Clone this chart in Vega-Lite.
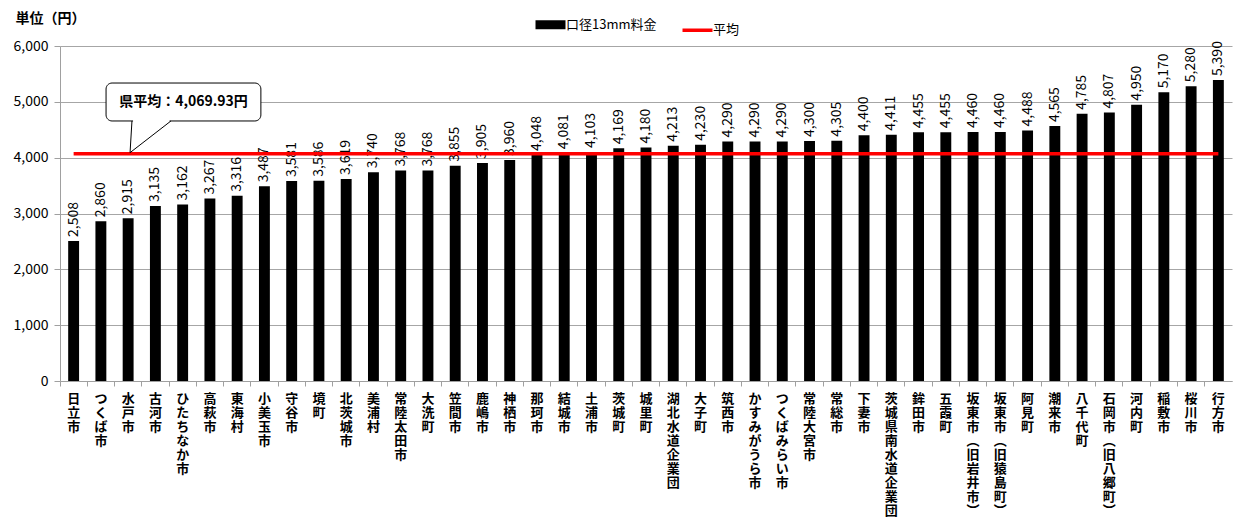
{
  "$schema": "https://vega.github.io/schema/vega-lite/v6.json",
  "autosize": "none",
  "width": 1172,
  "height": 335,
  "padding": {"left": 60, "top": 46, "right": 5, "bottom": 144},
  "background": "white",
  "config": {
    "font": "Noto Sans CJK JP",
    "view": {"stroke": null},
    "axis": {"labelFont": "Noto Sans CJK JP", "titleFont": "Noto Sans CJK JP"}
  },
  "datasets": {
    "fees": [
      {"name": "日立市", "fee": 2508},
      {"name": "つくば市", "fee": 2860},
      {"name": "水戸市", "fee": 2915},
      {"name": "古河市", "fee": 3135},
      {"name": "ひたちなか市", "fee": 3162},
      {"name": "高萩市", "fee": 3267},
      {"name": "東海村", "fee": 3316},
      {"name": "小美玉市", "fee": 3487},
      {"name": "守谷市", "fee": 3581},
      {"name": "境町", "fee": 3586},
      {"name": "北茨城市", "fee": 3619},
      {"name": "美浦村", "fee": 3740},
      {"name": "常陸太田市", "fee": 3768},
      {"name": "大洗町", "fee": 3768},
      {"name": "笠間市", "fee": 3855},
      {"name": "鹿嶋市", "fee": 3905},
      {"name": "神栖市", "fee": 3960},
      {"name": "那珂市", "fee": 4048},
      {"name": "結城市", "fee": 4081},
      {"name": "土浦市", "fee": 4103},
      {"name": "茨城町", "fee": 4169},
      {"name": "城里町", "fee": 4180},
      {"name": "湖北水道企業団", "fee": 4213},
      {"name": "大子町", "fee": 4230},
      {"name": "筑西市", "fee": 4290},
      {"name": "かすみがうら市", "fee": 4290},
      {"name": "つくばみらい市", "fee": 4290},
      {"name": "常陸大宮市", "fee": 4300},
      {"name": "常総市", "fee": 4305},
      {"name": "下妻市", "fee": 4400},
      {"name": "茨城県南水道企業団", "fee": 4411},
      {"name": "鉾田市", "fee": 4455},
      {"name": "五霞町", "fee": 4455},
      {"name": "坂東市（旧岩井市）", "fee": 4460},
      {"name": "坂東市（旧猿島町）", "fee": 4460},
      {"name": "阿見町", "fee": 4488},
      {"name": "潮来市", "fee": 4565},
      {"name": "八千代町", "fee": 4785},
      {"name": "石岡市（旧八郷町）", "fee": 4807},
      {"name": "河内町", "fee": 4950},
      {"name": "稲敷市", "fee": 5170},
      {"name": "桜川市", "fee": 5280},
      {"name": "行方市", "fee": 5390}
    ],
    "box": [{"x1": 1.69, "x2": 7.37, "xc": 4.53, "y1": 4657, "y2": 5337, "yc": 4990, "label": "県平均：4,069.93円"}],
    "pointer": [
      {"px": 2.64, "py": 4657, "o": 1},
      {"px": 2.57, "py": 4090, "o": 2},
      {"px": 4.07, "py": 4657, "o": 3}
    ],
    "gap": [{"gx1": 2.68, "gx2": 4.02, "gy": 4657}]
  },
  "layer": [
    {
      "data": {"name": "fees"},
      "encoding": {
        "x": {
          "field": "name",
          "type": "nominal",
          "sort": null,
          "title": null,
          "scale": {"paddingInner": 0.6, "paddingOuter": 0.3},
          "axis": {
            "labelAngle": 0,
            "labelAlign": "center",
            "labelBaseline": "top",
            "labelExpr": "split(replace(replace(datum.label, '（', '︵'), '）', '︶'), '')",
            "labelFontSize": 13,
            "labelFontWeight": "bold",
            "labelColor": "black",
            "labelLineHeight": 14,
            "labelPadding": 6,
            "labelOverlap": false,
            "labelLimit": 0,
            "bandPosition": -0.75,
            "tickSize": 5,
            "tickColor": "#a0a0a0",
            "domainColor": "#a0a0a0",
            "grid": false
          }
        },
        "y": {
          "field": "fee",
          "type": "quantitative",
          "title": "単位（円）",
          "scale": {"domain": [0, 6000], "nice": false},
          "axis": {
            "values": [0, 1000, 2000, 3000, 4000, 5000, 6000],
            "format": ",d",
            "labelFontSize": 14,
            "labelColor": "black",
            "labelPadding": 6,
            "tickSize": 6,
            "tickColor": "#a0a0a0",
            "domainColor": "#a0a0a0",
            "gridColor": "#a6a6a6",
            "gridWidth": 1,
            "titleAngle": 0,
            "titleAlign": "left",
            "titleBaseline": "middle",
            "titleX": -45,
            "titleY": -28,
            "titleFontSize": 14,
            "titleFontWeight": "bold",
            "titleColor": "black"
          }
        }
      },
      "layer": [
        {
          "mark": {"type": "bar"},
          "encoding": {
            "fill": {
              "datum": "口径13mm料金",
              "type": "nominal",
              "scale": {"domain": ["口径13mm料金", "平均"], "range": ["black", "red"]},
              "legend": {
                "title": null,
                "orient": "none",
                "direction": "horizontal",
                "legendX": 484,
                "legendY": -28,
                "symbolType": "stroke",
                "symbolSize": 900,
                "labelFontSize": 13,
                "labelColor": "black",
                "labelOffset": 9,
                "columnPadding": 18,
                "encode": {
                  "symbols": {
                    "update": {
                      "stroke": {"signal": "datum.value === '平均' ? 'red' : 'black'"},
                      "strokeWidth": {"signal": "datum.value === '平均' ? 3.5 : 9"}
                    }
                  }
                }
              }
            }
          }
        },
        {
          "mark": {"type": "text", "angle": 270, "align": "left", "baseline": "middle", "dx": 4, "fontSize": 14, "color": "black"},
          "encoding": {
            "text": {"field": "fee", "type": "quantitative", "format": ","}
          }
        },
        {
          "data": {"values": [{"avg": 4069.93, "first": "日立市", "last": "行方市"}]},
          "mark": {"type": "rule", "color": "red", "strokeWidth": 3.5},
          "encoding": {
            "x": {"field": "first", "type": "nominal", "sort": null},
            "x2": {"field": "last"},
            "y": {"field": "avg", "type": "quantitative"}
          }
        }
      ]
    },
    {
      "layer": [
        {
          "data": {"name": "box"},
          "mark": {"type": "rect", "fill": "white", "stroke": "black", "strokeWidth": 1, "cornerRadius": 6},
          "encoding": {
            "x": {"field": "x1", "type": "quantitative", "scale": {"domain": [0, 43], "nice": false, "zero": false}, "axis": null},
            "x2": {"field": "x2"},
            "y": {"field": "y1", "type": "quantitative", "axis": null},
            "y2": {"field": "y2"}
          }
        },
        {
          "data": {"name": "gap"},
          "mark": {"type": "rule", "color": "white", "strokeWidth": 2.5},
          "encoding": {
            "x": {"field": "gx1", "type": "quantitative", "scale": {"domain": [0, 43], "nice": false, "zero": false}, "axis": null},
            "x2": {"field": "gx2"},
            "y": {"field": "gy", "type": "quantitative", "axis": null}
          }
        },
        {
          "data": {"name": "pointer"},
          "mark": {"type": "line", "color": "black", "strokeWidth": 1},
          "encoding": {
            "x": {"field": "px", "type": "quantitative", "scale": {"domain": [0, 43], "nice": false, "zero": false}, "axis": null},
            "y": {"field": "py", "type": "quantitative", "axis": null},
            "order": {"field": "o"}
          }
        },
        {
          "data": {"name": "box"},
          "mark": {"type": "text", "fontSize": 14, "fontWeight": "bold", "color": "black", "align": "center", "baseline": "middle"},
          "encoding": {
            "x": {"field": "xc", "type": "quantitative", "scale": {"domain": [0, 43], "nice": false, "zero": false}, "axis": null},
            "y": {"field": "yc", "type": "quantitative", "axis": null},
            "text": {"field": "label"}
          }
        }
      ]
    }
  ],
  "resolve": {"scale": {"x": "independent"}, "axis": {"y": "independent"}}
}
